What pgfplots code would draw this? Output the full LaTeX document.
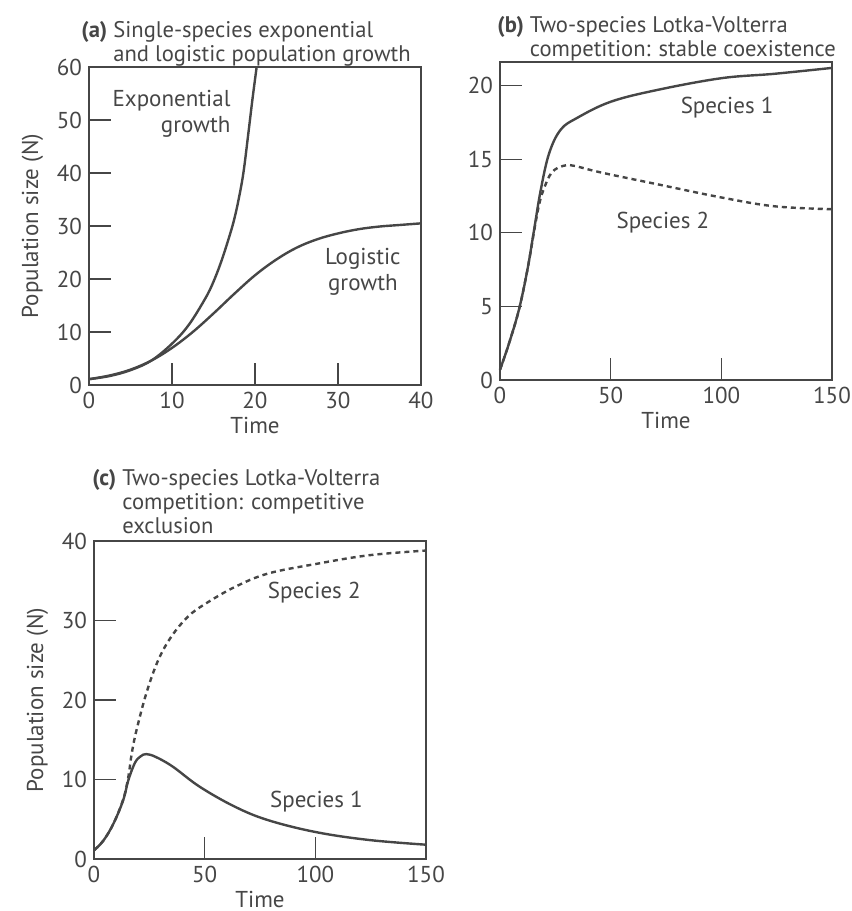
\documentclass[border=0pt]{standalone}
\usepackage{fontspec}
\setmainfont{PT Sans}
\usepackage{pgfplots}
\pgfplotsset{compat=1.18}
\definecolor{ink}{RGB}{70,70,70}

\newcommand\lblfont{\fontsize{11.5}{13}\selectfont}
\pgfplotsset{
  panel/.style={
    scale only axis, width=166pt, height=159pt,
    anchor=south west,
    axis line style={ink, line width=0.6pt},
    tick style={ink, line width=0.6pt},
    tick align=inside, major tick length=11pt,
    xtick pos=left, ytick pos=left,
    /pgf/number format/assume math mode=true,
    ticklabel style={font=\lblfont, text=ink},
    label style={font=\lblfont, text=ink},
    xlabel style={yshift=2.5pt},
    title style={at={(0,1)}, anchor=south west, inner sep=0pt, align=left,
      font=\fontsize{11.3}{12}\selectfont, text=ink},
    xlabel={Time},
    clip=false,
  },
  curve/.style={ink, line width=1.2pt, smooth, tension=0.6},
  dcurve/.style={ink, line width=1.2pt, smooth, tension=0.6, dash pattern=on 2.5pt off 2pt},
}

\begin{document}
\begin{tikzpicture}
\useasboundingbox (0,0) rectangle (426pt,-455.5pt);

% (a) exponential vs logistic
\begin{axis}[panel, at={(44.5pt,-192.5pt)},
  xmin=0, xmax=40, ymin=0, ymax=60,
  xtick={0,10,20,30,40}, ytick={0,10,20,30,40,50,60},
  ylabel={Population size (N)},
  title={\textbf{(a)} \begin{tabular}[t]{@{}l@{}}Single-species exponential\\and logistic population growth\end{tabular}},
  title style={xshift=-4pt, yshift=-7.2pt},
]
\addplot[curve] coordinates {(0,1.1)(2.5,1.7)(5,2.8)(7.5,4.6)(10,7.8)(12,11.3)(14,16.3)(15,19.5)(16,23.6)(17,28.5)(17.5,31.3)(18,34.8)(18.6,40)(19.2,47.5)(19.7,54)(20.2,60)};
\addplot[curve] coordinates {(0,1.1)(2.5,1.8)(5,2.9)(7.5,4.6)(10,7.0)(12.5,10.0)(15,13.5)(17.5,17.2)(20,20.7)(22.5,23.6)(25,25.9)(27.5,27.5)(30,28.6)(32.5,29.4)(35,29.9)(37.5,30.2)(40,30.5)};
\node[align=right, anchor=east, text=ink, font=\lblfont] at (axis cs:17.9,51.2) {Exponential\\growth};
\node[align=center, text=ink, font=\lblfont] at (axis cs:33,21.3) {Logistic\\growth};
\end{axis}

% (b) stable coexistence
\begin{axis}[panel, at={(250pt,-190pt)},
  xmin=0, xmax=150, ymin=0, ymax=21.6,
  xtick={0,50,100,150}, ytick={0,5,10,15,20},
  title={\textbf{(b)} \begin{tabular}[t]{@{}l@{}}Two-species Lotka-Volterra\\competition: stable coexistence\end{tabular}},
  title style={xshift=-1.5pt, yshift=-6.8pt},
]
\addplot[curve] coordinates {(0,0.7)(4.1,2.5)(8.6,4.8)(12.4,7.5)(15.4,10.2)(18.4,12.9)(22.2,15.4)(27.4,17.0)(34.8,17.8)(50,18.9)(71,19.7)(100,20.5)(124,20.8)(150,21.2)};
\addplot[dcurve] coordinates {(0,0.7)(4.1,2.5)(8.6,4.8)(12.4,7.5)(15.4,10.1)(17.5,11.8)(19.6,12.9)(23.4,14.1)(28.7,14.55)(33.4,14.55)(45.5,14.1)(71,13.3)(100,12.4)(124,11.8)(150,11.6)};
\node[text=ink, font=\lblfont] at (axis cs:102.6,18.5) {Species 1};
\node[text=ink, font=\lblfont] at (axis cs:73.6,10.7) {Species 2};
\end{axis}

% (c) competitive exclusion
\begin{axis}[panel, at={(47pt,-429.5pt)},
  xmin=0, xmax=150, ymin=0, ymax=40,
  xtick={0,50,100,150}, ytick={0,10,20,30,40},
  ylabel={Population size (N)},
  title={\textbf{(c)} \begin{tabular}[t]{@{}l@{}}Two-species Lotka-Volterra\\competition: competitive\\exclusion\end{tabular}},
  title style={xshift=-1pt, yshift=-6pt},
]
\addplot[curve] coordinates {(0,1.1)(4.2,2.3)(8.7,4.4)(13.2,7.4)(15.5,9.9)(18.5,12.1)(21,12.9)(23.7,13.2)(28.2,12.8)(35.7,11.6)(47.7,9.1)(63.5,6.6)(78.5,4.9)(100,3.4)(124,2.4)(150,1.8)};
\addplot[dcurve] coordinates {(0,1.1)(4.2,2.3)(8.7,4.4)(13.2,7.5)(15.5,10.3)(17,13.2)(19.2,16.2)(23.7,20.9)(29,25)(35,28)(42.5,30.5)(50.3,32.1)(63.5,34.2)(78.5,35.9)(100,37.1)(124,38.2)(150,38.8)};
\node[text=ink, font=\lblfont] at (axis cs:99.5,33.5) {Species 2};
\node[text=ink, font=\lblfont] at (axis cs:100.5,7.2) {Species 1};
\end{axis}
\end{tikzpicture}
\end{document}
